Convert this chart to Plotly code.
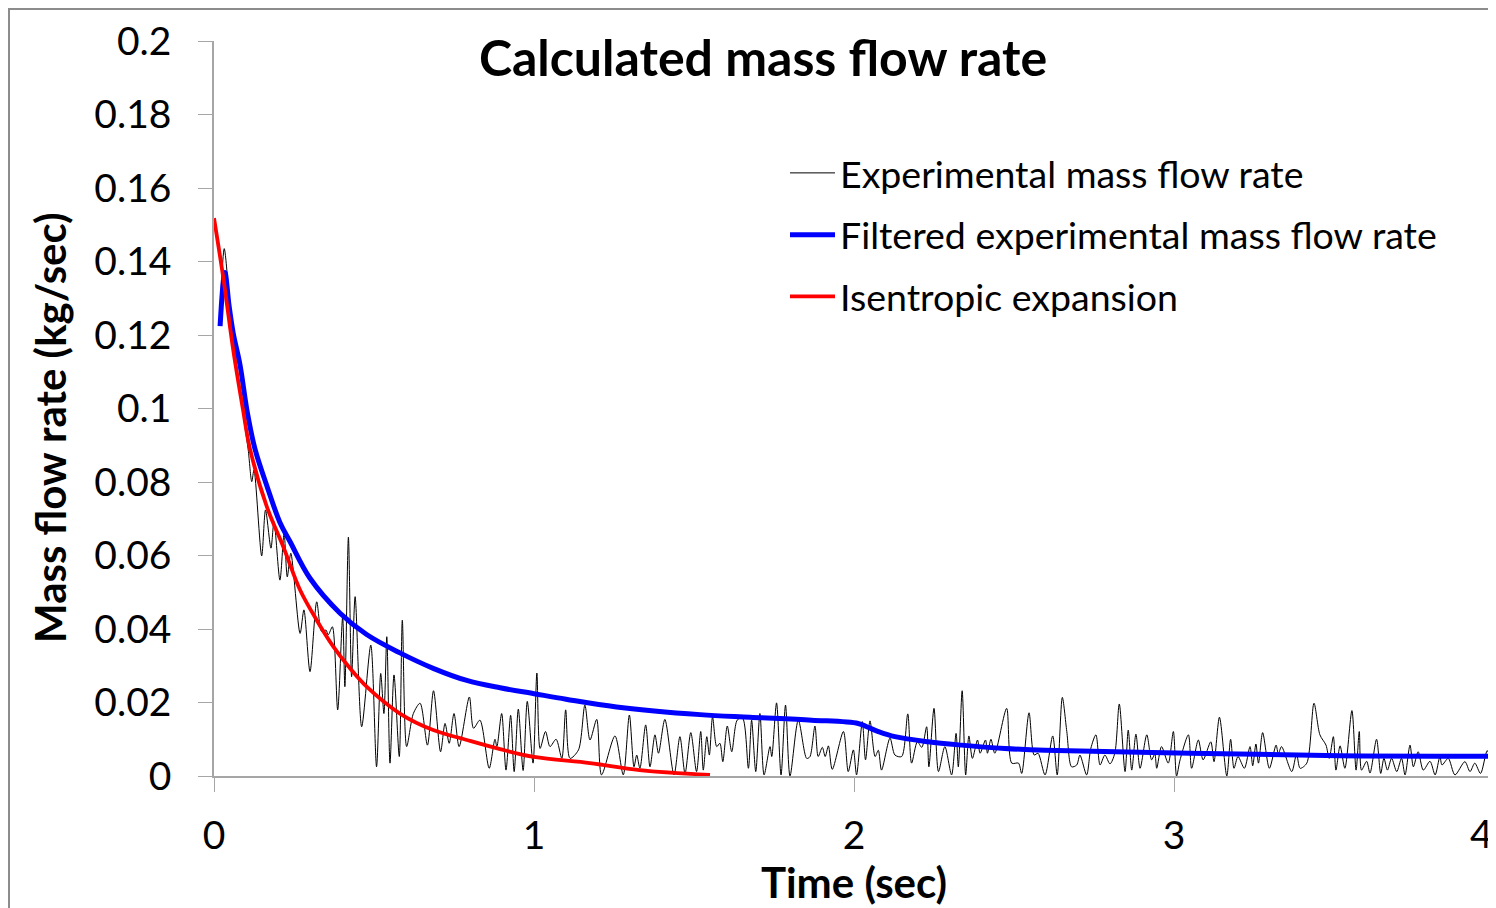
import plotly.graph_objects as go

# ---- data (time in s, mass flow rate in kg/s) ----
exp_time = [0.020,0.032,0.045,0.060,0.080,0.095,0.107,0.118,0.125,0.149,0.161,0.178,0.1875,0.206,0.219,0.229,0.240,0.269,0.281,0.300,
0.321,0.3365,0.350,0.357,0.370,0.3865,0.402,0.409,0.420,0.430,0.441,0.4615,0.490,0.508,0.521,0.531,0.540,0.550,0.5625,0.579,
0.5885,0.602,0.623,0.644,0.667,0.686,0.708,0.722,0.735,0.750,0.766,0.798,0.811,0.831,0.860,0.878,0.884,0.899,0.9125,0.927,
0.938,0.951,0.966,0.979,0.997,1.009,1.019,1.036,1.050,1.069,1.087,1.099,1.1125,1.139,1.159,1.175,1.196,1.211,1.253,1.279,
1.298,1.3125,1.321,1.331,1.349,1.3625,1.378,1.389,1.409,1.4375,1.456,1.472,1.490,1.508,1.521,1.529,1.540,1.548,1.558,1.571,
1.581,1.590,1.604,1.618,1.635,1.652,1.670,1.680,1.693,1.706,1.719,1.7375,1.743,1.758,1.772,1.786,1.800,1.826,1.852,1.862,
1.878,1.888,1.901,1.910,1.920,1.932,1.967,1.982,1.998,2.008,2.026,2.036,2.050,2.066,2.076,2.086,2.1125,2.128,2.149,2.168,
2.180,2.198,2.212,2.227,2.234,2.250,2.264,2.284,2.305,2.319,2.326,2.338,2.349,2.359,2.370,2.386,2.394,2.411,2.417,2.428,
2.440,2.477,2.493,2.514,2.524,2.547,2.563,2.575,2.597,2.621,2.635,2.651,2.665,2.680,2.696,2.706,2.727,2.740,2.756,2.769,
2.784,2.800,2.815,2.829,2.847,2.857,2.868,2.881,2.894,2.915,2.930,2.940,2.946,2.961,2.982,2.998,3.008,3.019,3.045,3.055,
3.076,3.091,3.115,3.125,3.142,3.165,3.177,3.1875,3.200,3.220,3.2375,3.246,3.256,3.264,3.277,3.298,3.319,3.326,3.336,3.368,
3.383,3.394,3.415,3.4375,3.456,3.475,3.485,3.498,3.506,3.519,3.534,3.556,3.569,3.579,3.586,3.602,3.6125,3.633,3.646,3.656,
3.667,3.680,3.696,3.711,3.722,3.7375,3.748,3.763,3.779,3.800,3.816,3.831,3.8375,3.857,3.878,3.909,3.925,3.940,3.958,3.979,
3.998]
exp_flow = [0.1280,0.1435,0.1330,0.1190,0.1060,0.0960,0.0887,0.0801,0.0833,0.0599,0.0724,0.0620,0.0692,0.0533,0.0660,0.0542,0.0606,0.0388,0.0452,0.0284,
0.0474,0.0393,0.0397,0.0384,0.0406,0.0180,0.0433,0.0243,0.0650,0.0270,0.0488,0.0134,0.0356,0.0025,0.0279,0.0170,0.0379,0.0035,0.0275,0.0053,
0.0424,0.0080,0.0170,0.0198,0.0084,0.0232,0.0066,0.0143,0.0089,0.0170,0.0080,0.0215,0.0130,0.0152,0.0021,0.0100,0.0080,0.0170,0.0016,0.0165,
0.0012,0.0182,0.0015,0.0203,0.0035,0.0280,0.0075,0.0121,0.0080,0.0100,0.0048,0.0180,0.0048,0.0071,0.0193,0.0098,0.0154,0.0003,0.0109,0.0003,
0.0166,0.0025,0.0057,0.0021,0.0139,0.0025,0.0112,0.0062,0.0154,0.0003,0.0107,0.0007,0.0118,0.0012,0.0121,0.0016,0.0107,0.0057,0.0161,0.0080,
0.0089,0.0039,0.0136,0.0066,0.0152,0.0157,0.0021,0.0152,0.0012,0.0170,0.0003,0.0080,0.0053,0.0199,0.0003,0.0193,0.0000,0.0152,0.0048,0.0052,
0.0136,0.0053,0.0078,0.0053,0.0082,0.0018,0.0121,0.0012,0.0071,0.0003,0.0148,0.0044,0.0150,0.0053,0.0070,0.0016,0.0103,0.0057,0.0053,0.0169,
0.0035,0.0093,0.0078,0.0134,0.0025,0.0184,0.0012,0.0080,0.0003,0.0116,0.0025,0.0232,0.0003,0.0109,0.0048,0.0098,0.0062,0.0098,0.0062,0.0100,
0.0062,0.0184,0.0035,0.0035,0.0007,0.0172,0.0057,0.0062,0.0003,0.0109,0.0003,0.0214,0.0121,0.0025,0.0030,0.0057,0.0003,0.0075,0.0112,0.0030,
0.0057,0.0033,0.0062,0.0196,0.0012,0.0125,0.0016,0.0114,0.0021,0.0112,0.0044,0.0060,0.0021,0.0080,0.0035,0.0121,0.0000,0.0044,0.0112,0.0021,
0.0098,0.0044,0.0093,0.0039,0.0160,0.0000,0.0100,0.0021,0.0053,0.0021,0.0080,0.0028,0.0087,0.0035,0.0118,0.0021,0.0084,0.0060,0.0080,0.0012,
0.0060,0.0021,0.0035,0.0198,0.0112,0.0084,0.0048,0.0107,0.0016,0.0082,0.0021,0.0178,0.0016,0.0121,0.0016,0.0040,0.0008,0.0100,0.0007,0.0048,
0.0016,0.0048,0.0012,0.0048,0.0003,0.0084,0.0025,0.0066,0.0016,0.0040,0.0003,0.0053,0.0030,0.0048,0.0003,0.0039,0.0012,0.0035,0.0007,0.0069,
0.0007]

filt_time = [0.019,0.034,0.047,0.060,0.081,0.104,0.128,0.165,0.206,0.2375,0.300,0.394,0.477,0.581,0.685,0.790,0.894,1.000,1.100,
1.258,1.519,1.675,1.868,2.013,2.040,2.076,2.128,2.232,2.336,2.472,2.597,3.050,3.519,4.000]
filt_flow = [0.1224,0.1370,0.1280,0.1205,0.1120,0.0990,0.0890,0.0790,0.0690,0.0638,0.0538,0.0443,0.0385,0.0335,0.0293,0.0260,0.0240,0.0224,0.0209,
0.0188,0.0167,0.0160,0.0152,0.0143,0.0134,0.0121,0.0107,0.0093,0.0084,0.0075,0.0070,0.0062,0.0055,0.0054]

isen_time = [0.000,0.030,0.060,0.090,0.1125,0.165,0.2165,0.269,0.321,0.373,0.425,0.477,0.581,0.685,0.790,0.894,1.000,1.175,1.330,1.550]
isen_flow = [0.1518,0.1350,0.1160,0.1000,0.0890,0.0733,0.0624,0.0506,0.0424,0.0352,0.0293,0.0243,0.0170,0.0125,0.0098,0.0073,0.0052,0.0035,0.0016,0.0003]

y_ticks = [0, 0.02, 0.04, 0.06, 0.08, 0.1, 0.12, 0.14, 0.16, 0.18, 0.2]
y_tick_text = ["0", "0.02", "0.04", "0.06", "0.08", "0.1", "0.12", "0.14", "0.16", "0.18", "0.2"]
x_ticks = [0, 1, 2, 3, 4]
x_tick_text = ["0", "1", "2", "3", ""]   # the last label sits at the page edge and is drawn separately
last_x_label = "4"

FONT = "Lato, Carlito, Calibri, sans-serif"
W, H = 1488, 900          # page body has an 8 px margin
L, R, T, B = 206, 2, 33, 132
PW, PH = W - L - R, H - T - B

fig = go.Figure()
fig.add_trace(go.Scatter(x=exp_time, y=exp_flow, mode="lines", name="Experimental mass flow rate",
                         line=dict(color="#000000", width=1, shape="spline", smoothing=0.8),
                         legendgroup="a"))
fig.add_trace(go.Scatter(x=filt_time, y=filt_flow, mode="lines", name="Filtered experimental mass flow rate",
                         line=dict(color="#0000FF", width=5, shape="spline"),
                         legendgroup="b"))
fig.add_trace(go.Scatter(x=isen_time, y=isen_flow, mode="lines", name="Isentropic expansion",
                         line=dict(color="#FF0000", width=3.8, shape="spline"),
                         legendgroup="c"))

fig.update_layout(
    width=W, height=H,
    margin=dict(l=L, r=R, t=T, b=B),
    paper_bgcolor="white", plot_bgcolor="white",
    font=dict(family=FONT, color="black"),
    title=dict(text="<b>Calculated mass flow rate</b>", x=755 / W, xanchor="center",
               y=1 - 50 / H, yanchor="middle", font=dict(size=50, family=FONT, color="black")),
    showlegend=True,
    legend=dict(x=(777 - L) / PW, y=(H - B - 134) / PH, xanchor="left", yanchor="top",
                bgcolor="rgba(0,0,0,0)", font=dict(size=37.5, family=FONT, color="black"),
                traceorder="grouped", tracegroupgap=10, itemwidth=45),
    shapes=[dict(type="rect", xref="paper", yref="paper",
                 x0=(1 - L) / PW, x1=1.2, y0=-0.5, y1=(H - B - 1) / PH,
                 line=dict(color="#8c8c8c", width=2), fillcolor="rgba(0,0,0,0)", layer="below")],
    annotations=[
        dict(text="<b>Mass flow rate (kg/sec)</b>", xref="paper", yref="paper",
             x=(42 - L) / PW, y=(H - B - 420) / PH, xanchor="center", yanchor="middle",
             textangle=-90, showarrow=False, font=dict(size=42, family=FONT, color="black")),
        dict(text=last_x_label, xref="paper", yref="paper",
             x=(W - 1 - L) / PW, y=(H - B - 825) / PH, xanchor="right", yanchor="middle",
             showarrow=False, font=dict(size=39, family=FONT, color="black")),
    ],
)

fig.update_xaxes(range=[0, 4], tickvals=x_ticks, ticktext=x_tick_text, ticks="outside", ticklen=14,
                 tickcolor="#a6a6a6", showline=True, linecolor="#a6a6a6", linewidth=1.5, showgrid=False,
                 zeroline=False, tickfont=dict(size=39, family=FONT, color="black"), ticklabelstandoff=10,
                 title=dict(text="<b>Time (sec)</b>", font=dict(size=42, family=FONT, color="black"), standoff=10))
fig.update_yaxes(range=[0, 0.2], tickvals=y_ticks, ticktext=y_tick_text, ticks="outside", ticklen=14,
                 tickcolor="#a6a6a6", showline=True, linecolor="#a6a6a6", linewidth=1.5, showgrid=False,
                 zeroline=False, tickfont=dict(size=39, family=FONT, color="black"), ticklabelstandoff=19)

fig.write_html("out.html")
